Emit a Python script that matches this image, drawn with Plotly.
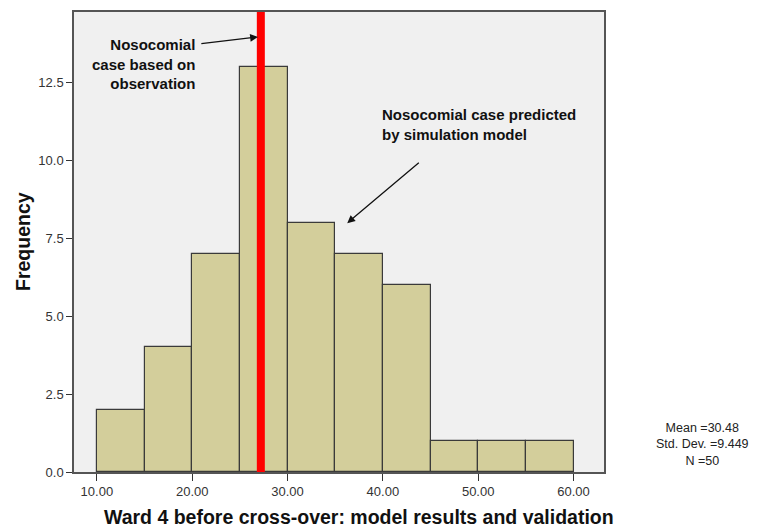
import plotly.graph_objects as go

bin_starts = [10, 15, 20, 25, 30, 35, 40, 45, 50, 55]
bin_width = 5
frequencies = [2, 4, 7, 13, 8, 7, 6, 1, 1, 1]
observed_case = 27.2
x_ticks = [10, 20, 30, 40, 50, 60]
x_tick_labels = ["10.00", "20.00", "30.00", "40.00", "50.00", "60.00"]
y_ticks = [0, 2.5, 5, 7.5, 10, 12.5]
y_tick_labels = ["0.0", "2.5", "5.0", "7.5", "10.0", "12.5"]
stats_text = "Mean =30.48<br>Std. Dev. =9.449<br>N =50"

centers = [s + bin_width / 2 for s in bin_starts]

# page offset (body margin) = 8px
PL, PR, PT, PB = 74, 604, 10, 472  # plot area in page pixels
PW, PH = PR - PL, PB - PT

fig = go.Figure()
fig.add_trace(go.Bar(
    x=centers, y=frequencies, width=[bin_width] * len(centers),
    marker=dict(color="#D3CE9B", line=dict(color="#3a3a3a", width=1.2)),
    showlegend=False, hoverinfo="skip",
))

fig.add_shape(type="line", xref="x", yref="paper", x0=observed_case, x1=observed_case,
              y0=0, y1=1, line=dict(color="#FF0000", width=8), layer="above")

font_ann = dict(family="Arial, Liberation Sans", size=15, color="#111111")

fig.add_annotation(x=26.9, y=13.97, ax=20.8, ay=13.75, xref="x", yref="y",
                   axref="x", ayref="y", showarrow=True, arrowhead=2, arrowsize=1.2,
                   arrowwidth=1.3, arrowcolor="#111111", text="")
fig.add_annotation(x=36.26, y=7.99, ax=43.93, ay=9.97, xref="x", yref="y",
                   axref="x", ayref="y", showarrow=True, arrowhead=2, arrowsize=1.2,
                   arrowwidth=1.3, arrowcolor="#111111", text="")

fig.add_annotation(x=20.5, y=13.1, xref="x", yref="y", xanchor="right", yanchor="middle",
                   align="right", showarrow=False,
                   text="<b>Nosocomial<br>case based on<br>observation</b>", font=font_ann)
fig.add_annotation(x=39.7, y=11.16, xref="x", yref="y", xanchor="left", yanchor="middle",
                   align="left", showarrow=False,
                   text="<b>Nosocomial case predicted<br>by simulation model</b>", font=font_ann)

fig.add_annotation(x=(702 - PL) / PW, y=(PB - 444) / PH, xref="paper", yref="paper",
                   xanchor="center", yanchor="middle", align="center", showarrow=False,
                   text=stats_text,
                   font=dict(family="Arial, Liberation Sans", size=12.5, color="#222222"))

fig.add_annotation(x=(359 - PL) / PW, y=-(517 - PB) / PH, xref="paper", yref="paper",
                   xanchor="center", yanchor="middle", showarrow=False,
                   text="<b>Ward 4 before cross-over: model results and validation</b>",
                   font=dict(family="Arial, Liberation Sans", size=19.5, color="#111111"))
fig.add_annotation(x=-(PL - 23) / PW, y=(PB - 241) / PH, xref="paper", yref="paper",
                   textangle=-90, xanchor="center", yanchor="middle", showarrow=False,
                   text="<b>Frequency</b>",
                   font=dict(family="Arial, Liberation Sans", size=19.5, color="#111111"))

axis_common = dict(showgrid=False, zeroline=False, showline=True, linecolor="#555555",
                   linewidth=1.5, mirror=True, ticks="outside", tickcolor="#333333",
                   tickfont=dict(family="Arial, Liberation Sans", size=13, color="#333333"))

fig.update_xaxes(range=[7.6, 63.2], tickvals=x_ticks, ticktext=x_tick_labels, ticklen=7,
                 **axis_common)
fig.update_yaxes(range=[0, 14.77], tickvals=y_ticks, ticktext=y_tick_labels, ticklen=6,
                 **axis_common)

W, H = 750, 519
fig.update_layout(
    width=W, height=H,
    margin=dict(l=PL - 8, r=W - (PR - 8), t=PT - 8, b=H - (PB - 8)),
    plot_bgcolor="#F0F0F0", paper_bgcolor="#FFFFFF",
    bargap=0,
)

fig.write_html("out.html")
